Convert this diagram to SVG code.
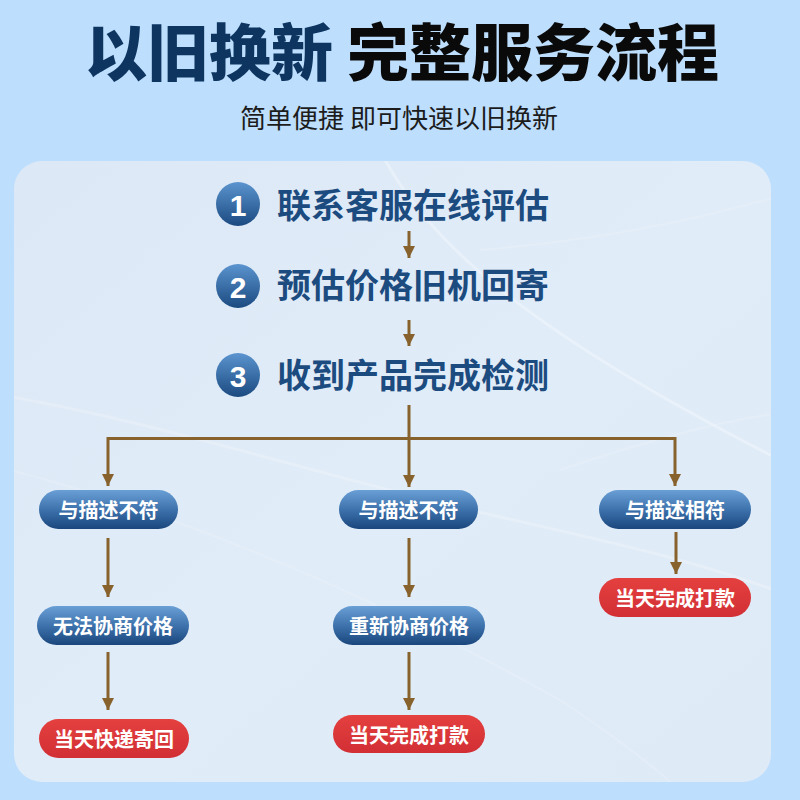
<svg xmlns="http://www.w3.org/2000/svg" width="800" height="800" viewBox="0 0 800 800">
  <defs>
    <linearGradient id="panelGrad" x1="0" y1="0" x2="1" y2="1">
      <stop offset="0" stop-color="#dce8f5"/>
      <stop offset="0.5" stop-color="#e0ecf8"/>
      <stop offset="1" stop-color="#dfeaf7"/>
    </linearGradient>
    <linearGradient id="blueGrad" x1="0" y1="0" x2="0" y2="1">
      <stop offset="0" stop-color="#6a9fd6"/>
      <stop offset="0.55" stop-color="#3a6ea8"/>
      <stop offset="1" stop-color="#1a467c"/>
    </linearGradient>
    <linearGradient id="redGrad" x1="0" y1="0" x2="0" y2="1">
      <stop offset="0" stop-color="#e4403f"/>
      <stop offset="1" stop-color="#d22f35"/>
    </linearGradient>
    <linearGradient id="circleGrad" x1="0" y1="0" x2="0" y2="1">
      <stop offset="0" stop-color="#5b94cf"/>
      <stop offset="1" stop-color="#1b4a80"/>
    </linearGradient>
    <clipPath id="panelClip">
      <rect x="14" y="161" width="757" height="621" rx="28"/>
    </clipPath>
    <marker id="arrowDown" markerUnits="userSpaceOnUse" markerWidth="12" markerHeight="12" refX="6" refY="12" orient="0" viewBox="0 0 12 12">
      <path d="M0 0 L12 0 L6 12 Z" fill="#87622d"/>
    </marker>
    <style>
      .title { font-family: "Noto Sans CJK SC", "Noto Sans", sans-serif; font-weight: 900; font-size: 62px; }
      .sub { font-family: "Noto Sans CJK SC", "Noto Sans", sans-serif; font-size: 26px; fill: #1c1c1c; }
      .step { font-family: "Noto Sans CJK SC", "Noto Sans", sans-serif; font-weight: 700; font-size: 34px; fill: #1c4b80; }
      .num { font-family: "Liberation Sans", "Noto Sans", sans-serif; font-weight: 700; font-size: 30px; fill: #ffffff; text-anchor: middle; dominant-baseline: central; }
      .pill-t { font-family: "Noto Sans CJK SC", "Noto Sans", sans-serif; font-weight: 700; font-size: 20px; fill: #ffffff; text-anchor: middle; dominant-baseline: central; }
      .conn { stroke: #87622d; stroke-width: 3; fill: none; }
      .conn-a { stroke: #87622d; stroke-width: 3; fill: none; marker-end: url(#arrowDown); }
      .deco { stroke: #ffffff; fill: none; }
    </style>
  </defs>

  <!-- background -->
  <rect x="0" y="0" width="800" height="800" fill="#bddefd"/>

  <!-- panel -->
  <rect x="14" y="161" width="757" height="621" rx="28" fill="url(#panelGrad)"/>
  <g clip-path="url(#panelClip)">
    <path class="deco" d="M385 160 C 430 240, 520 330, 800 470" stroke-opacity="0.3" stroke-width="3"/>
    <path class="deco" d="M0 395 C 150 420, 300 470, 470 510 C 600 540, 700 560, 800 600" stroke-opacity="0.22" stroke-width="3"/>
    <path class="deco" d="M10 470 C 200 520, 380 600, 560 700 C 620 740, 660 770, 690 800" stroke-opacity="0.15" stroke-width="2"/>
    <path class="deco" d="M480 250 C 600 240, 700 220, 800 190" stroke-opacity="0.15" stroke-width="2"/>
    <path class="deco" d="M560 470 C 650 440, 720 420, 800 410" stroke-opacity="0.15" stroke-width="2"/>
  </g>

  <!-- title -->
  <text class="title" x="402" y="76" text-anchor="middle"><tspan fill="#0d3560">以旧换新</tspan><tspan fill="#0a0a0a"> 完整服务流程</tspan></text>
  <text class="sub" x="399" y="128" text-anchor="middle">简单便捷 即可快速以旧换新</text>

  <!-- connectors -->
  <g id="connectors">
    <path class="conn-a" d="M409 231 V258"/>
    <path class="conn-a" d="M409 320 V346"/>
    <path class="conn-a" d="M409 405 V487"/>
    <path class="conn" d="M108 438.5 H675"/>
    <path class="conn-a" d="M108 437 V486"/>
    <path class="conn-a" d="M675 437 V486"/>
    <path class="conn-a" d="M108 538 V597"/>
    <path class="conn-a" d="M108 652 V710"/>
    <path class="conn-a" d="M409 538 V597"/>
    <path class="conn-a" d="M409 652 V710"/>
    <path class="conn-a" d="M676 532 V574"/>
  </g>

  <!-- steps -->
  <g id="step1">
    <circle cx="238" cy="204" r="22" fill="url(#circleGrad)"/>
    <text class="num" x="238" y="205">1</text>
    <text class="step" x="277" y="218">联系客服在线评估</text>
  </g>
  <g id="step2">
    <circle cx="238" cy="286" r="22" fill="url(#circleGrad)"/>
    <text class="num" x="238" y="287">2</text>
    <text class="step" x="277" y="298">预估价格旧机回寄</text>
  </g>
  <g id="step3">
    <circle cx="238" cy="375" r="22" fill="url(#circleGrad)"/>
    <text class="num" x="238" y="376">3</text>
    <text class="step" x="277" y="388">收到产品完成检测</text>
  </g>

  <!-- column 1 -->
  <g id="a1">
    <rect x="39" y="490" width="139" height="39" rx="19.5" fill="url(#blueGrad)"/>
    <text class="pill-t" x="108.5" y="509.5">与描述不符</text>
  </g>
  <g id="a2">
    <rect x="37" y="606" width="152" height="39" rx="19.5" fill="url(#blueGrad)"/>
    <text class="pill-t" x="113" y="625.5">无法协商价格</text>
  </g>
  <g id="a3">
    <rect x="39" y="719" width="150" height="39" rx="19.5" fill="url(#redGrad)"/>
    <text class="pill-t" x="114" y="738.5">当天快递寄回</text>
  </g>

  <!-- column 2 -->
  <g id="b1">
    <rect x="339" y="490" width="139" height="39" rx="19.5" fill="url(#blueGrad)"/>
    <text class="pill-t" x="408.5" y="509.5">与描述不符</text>
  </g>
  <g id="b2">
    <rect x="333" y="606" width="152" height="39" rx="19.5" fill="url(#blueGrad)"/>
    <text class="pill-t" x="409" y="625.5">重新协商价格</text>
  </g>
  <g id="b3">
    <rect x="333" y="715" width="152" height="38" rx="19" fill="url(#redGrad)"/>
    <text class="pill-t" x="409" y="734">当天完成打款</text>
  </g>

  <!-- column 3 -->
  <g id="c1">
    <rect x="599" y="490" width="152" height="39" rx="19.5" fill="url(#blueGrad)"/>
    <text class="pill-t" x="675" y="509.5">与描述相符</text>
  </g>
  <g id="c2">
    <rect x="599" y="578" width="152" height="39" rx="19.5" fill="url(#redGrad)"/>
    <text class="pill-t" x="675" y="597.5">当天完成打款</text>
  </g>
</svg>
